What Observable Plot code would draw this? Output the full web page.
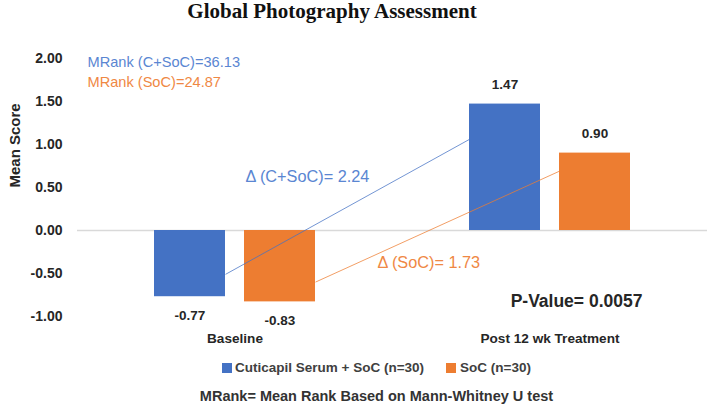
<!DOCTYPE html>
<html>
<head>
<meta charset="utf-8">
<script src="https://cdn.jsdelivr.net/npm/d3@7"></script>
<script src="https://cdn.jsdelivr.net/npm/@observablehq/plot@0.6"></script>
<style>
  html, body { margin: 0; padding: 0; background: #fff; }
  body { position: relative; width: 709px; height: 406px; overflow: hidden; font-family: "Liberation Sans", Arial, sans-serif; }
  #title { position: absolute; left: 0; top: 0; width: 664px; text-align: center; font-family: "Liberation Serif", "Times New Roman", serif; font-weight: bold; font-size: 21px; line-height: 22px; color: #111; }
  #chart { position: absolute; left: 0; top: 30px; }
  .leg { position: absolute; top: 359px; font-size: 13.5px; font-weight: bold; color: #404040; line-height: 18px; white-space: nowrap; }
  .sw { position: absolute; top: 363px; width: 10px; height: 10px; }
  #caption { position: absolute; top: 386px; left: 0; width: 753px; text-align: center; font-size: 14.5px; font-weight: bold; color: #333; line-height: 20px; white-space: nowrap; }
</style>
</head>
<body>
<div id="title">Global Photography Assessment</div>
<div id="chart"></div>
<div class="sw" id="sw0"></div><div class="leg" id="lg0"></div>
<div class="sw" id="sw1"></div><div class="leg" id="lg1"></div>
<div id="caption">MRank= Mean Rank Based on Mann-Whitney U test</div>
<script>
// ---- data ----
const categories = ["Baseline", "Post 12 wk Treatment"];
const seriesNames = ["Cuticapil Serum + SoC (n=30)", "SoC (n=30)"];
const seriesColors = ["#4472C4", "#ED7D31"];
const valuesCSoC = [-0.77, 1.47];
const valuesSoC = [-0.83, 0.90];
const yTicks = [-1, -0.5, 0, 0.5, 1, 1.5, 2];
// connector lines (y at start on Baseline bar, y at end on Post bar)
const linkCSoC = [-0.51, 1.06];
const linkSoC = [-0.60, 0.69];
const mrankTexts = ["MRank (C+SoC)=36.13", "MRank (SoC)=24.87"];
const deltaTexts = ["Δ (C+SoC)= 2.24", "Δ (SoC)= 1.73"];
const deltaX = [0.533, 0.952];
const deltaY = [0.62, -0.37];
const pValueText = "P-Value= 0.0057";
const pValueX = 1.375;
const pValueY = -0.826;

// ---- layout helpers (in x-scale units: one category = 1) ----
const barW = 71 / 315, gap = 19 / 315;
const seriesValues = [valuesCSoC, valuesSoC];
const bars = [];
seriesValues.forEach((vals, s) => {
  vals.forEach((v, i) => {
    const c = i + 0.5;
    const x1 = s === 0 ? c - gap / 2 - barW : c + gap / 2;
    bars.push({series: s, cat: i, value: v, x1, x2: x1 + barW, xc: x1 + barW / 2});
  });
});
const links = [linkCSoC, linkSoC].map((l, s) => {
  const b0 = bars.find(b => b.series === s && b.cat === 0);
  const b1 = bars.find(b => b.series === s && b.cat === 1);
  return {series: s, x1: b0.x2, y1: l[0], x2: b1.x1, y2: l[1]};
});
const deltas = deltaTexts.map((t, s) => ({text: t, x: deltaX[s], y: deltaY[s], series: s}));

const textColors = ["#5A86D2", "#EF8844"];
const dark = "#262626";

const plot = Plot.plot({
  width: 709,
  height: 322,
  marginLeft: 77,
  marginRight: 2,
  marginTop: 28,
  marginBottom: 36,
  style: {fontFamily: "'Liberation Sans', Arial, sans-serif", color: dark, background: "transparent"},
  x: {type: "linear", domain: [0, 2]},
  y: {domain: [-1, 2]},
  marks: [
    Plot.ruleY([0], {stroke: "#d9d9d9", strokeWidth: 1.5}),
    Plot.rect(bars, {x1: "x1", x2: "x2", y1: 0, y2: "value", fill: d => seriesColors[d.series]}),
    Plot.link(links, {x1: "x1", y1: "y1", x2: "x2", y2: "y2", stroke: d => seriesColors[d.series], strokeWidth: 1, strokeOpacity: 0.75}),
    Plot.text(bars, {filter: d => d.value >= 0, x: "xc", y: "value", text: d => d.value.toFixed(2), dy: -19, fontSize: 13.5, fontWeight: "bold", fill: dark}),
    Plot.text(bars, {filter: d => d.value < 0, x: "xc", y: "value", text: d => d.value.toFixed(2), dy: 19, fontSize: 13.5, fontWeight: "bold", fill: dark}),
    Plot.text([mrankTexts[0]], {text: d => d, frameAnchor: "top-left", textAnchor: "start", lineAnchor: "middle", dx: 10, dy: 4, fontSize: 14.6, fill: textColors[0]}),
    Plot.text([mrankTexts[1]], {text: d => d, frameAnchor: "top-left", textAnchor: "start", lineAnchor: "middle", dx: 10, dy: 24, fontSize: 14.6, fill: textColors[1]}),
    Plot.text(deltas, {x: "x", y: "y", text: "text", textAnchor: "start", fontSize: 16.3, fill: d => textColors[d.series]}),
    Plot.text([pValueText], {x: pValueX, y: pValueY, text: d => d, textAnchor: "start", fontSize: 17.5, fontWeight: "bold", fill: dark}),
    Plot.text(["Mean Score"], {text: d => d, frameAnchor: "left", rotate: -90, dx: -62, fontSize: 15, fontWeight: "bold", fill: dark}),
    Plot.axisY({ticks: yTicks, tickFormat: d => d.toFixed(2), tickSize: 0, tickPadding: 15, fontSize: 14, fontWeight: "bold", label: null}),
    Plot.axisX({ticks: [0.5, 1.5], tickFormat: d => categories[Math.round(d - 0.5)], tickSize: 0, tickPadding: 17, fontSize: 13.6, fontWeight: "bold", label: null})
  ]
});
document.getElementById("chart").appendChild(plot);

// legend
const swX = [222, 446], lgX = [235, 460];
seriesNames.forEach((n, i) => {
  const sw = document.getElementById("sw" + i);
  sw.style.left = swX[i] + "px";
  sw.style.background = seriesColors[i];
  const lg = document.getElementById("lg" + i);
  lg.style.left = lgX[i] + "px";
  lg.textContent = n;
});
</script>
</body>
</html>
